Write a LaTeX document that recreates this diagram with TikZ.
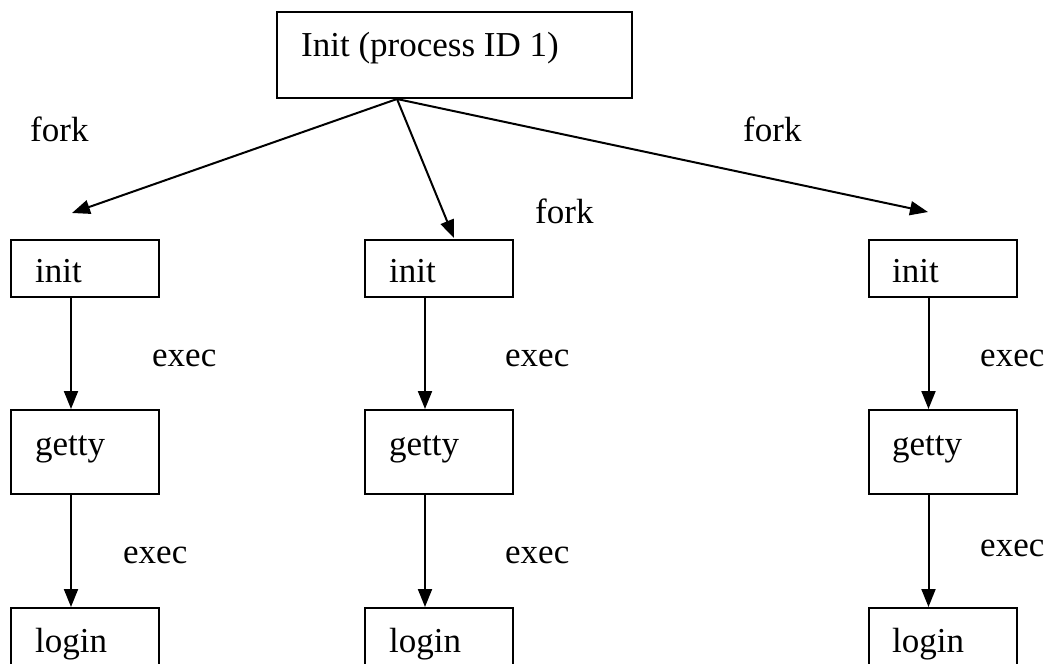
\documentclass[tikz,border=0pt]{standalone}
\usepackage{fontspec}
\setmainfont{Liberation Serif}
\usetikzlibrary{arrows.meta}
\begin{document}
\begin{tikzpicture}[x=1pt,y=-1pt,
  font=\fontsize{35}{42}\selectfont,
  procbox/.style={draw, line width=2pt, inner sep=0pt, minimum width=148pt},
  boxtext/.style={anchor=base west, inner sep=0pt},
  edgetext/.style={anchor=base west, inner sep=0pt},
  flow/.style={line width=2pt, -{Triangle[length=18pt,width=14pt]}}]
\useasboundingbox (0,0) rectangle (1047,664);
\clip (0,0) rectangle (1047,664);

% root process
\node[procbox, minimum width=355pt, minimum height=86pt] (root) at (454.5,55) {};
\node[boxtext] (roottxt) at (301,56) {Init (process ID 1)};

% child processes: three columns
\node[procbox, minimum height=57pt] (initA) at (85,268.5) {};
\node[procbox, minimum height=57pt] (initB) at (439,268.5) {};
\node[procbox, minimum height=57pt] (initC) at (942.5,268.5) {};
\node[boxtext] (initAt) at (35,282) {init};
\node[boxtext] (initBt) at (389,282) {init};
\node[boxtext] (initCt) at (892,282) {init};

\node[procbox, minimum height=84pt] (gettyA) at (85,452) {};
\node[procbox, minimum height=84pt] (gettyB) at (439,452) {};
\node[procbox, minimum height=84pt] (gettyC) at (942.5,452) {};
\node[boxtext] (gettyAt) at (35,455) {getty};
\node[boxtext] (gettyBt) at (389,455) {getty};
\node[boxtext] (gettyCt) at (892,455) {getty};

\node[procbox, minimum height=84pt] (loginA) at (85,650) {};
\node[procbox, minimum height=84pt] (loginB) at (439,650) {};
\node[procbox, minimum height=84pt] (loginC) at (942.5,650) {};
\node[boxtext] (loginAt) at (35,652) {login};
\node[boxtext] (loginBt) at (389,652) {login};
\node[boxtext] (loginCt) at (892,652) {login};

% fork arrows end just short of each init box
\coordinate (forkA) at (72,213);
\coordinate (forkB) at (454,238);
\coordinate (forkC) at (928,212);
\coordinate (forkO) at ([xshift=-57.5pt]root.south);
\draw[flow] (forkO) -- (forkA);
\draw[flow] (forkO) -- (forkB);
\draw[flow] (forkO) -- (forkC);

\node[edgetext] (forkAl) at (30,141) {fork};
\node[edgetext] (forkBl) at (535,223) {fork};
\node[edgetext] (forkCl) at (743,141) {fork};

% exec arrows
\foreach \c in {A,B,C}{
  \draw[flow] ([xshift=-14pt]init\c.south) -- ([xshift=-14pt]getty\c.north);
  \draw[flow] ([xshift=-14pt]getty\c.south) -- ([xshift=-14pt]login\c.north);
}

\node[edgetext] (execA1) at (152,366) {exec};
\node[edgetext] (execB1) at (505,366) {exec};
\node[edgetext] (execC1) at (980,366) {exec};
\node[edgetext] (execA2) at (123,563) {exec};
\node[edgetext] (execB2) at (505,563) {exec};
\node[edgetext] (execC2) at (980,556) {exec};
\end{tikzpicture}
\end{document}
